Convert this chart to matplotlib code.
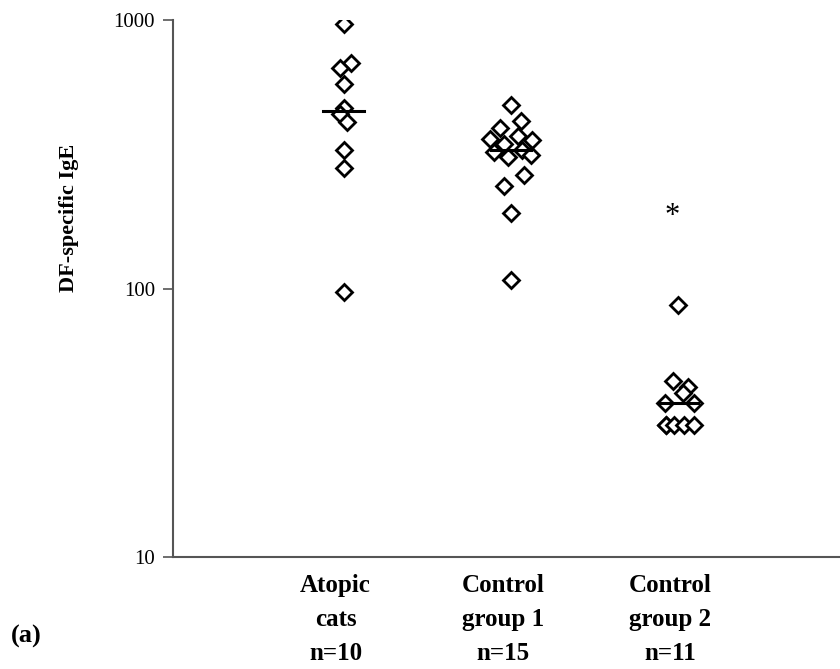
import matplotlib
matplotlib.use('Agg')
import matplotlib.pyplot as plt
import matplotlib.transforms as mtransforms
import numpy as np

# Group labels and DF-specific IgE values
categories = ['Atopic\ncats\nn=10', 'Control\ngroup 1\nn=15', 'Control\ngroup 2\nn=11']
atopic = [966, 692, 663, 578, 470, 445, 417, 328, 281, 97]
control1 = [482, 421, 396, 370, 361, 357, 345, 328, 322, 314, 309, 265, 241, 191, 108]
control2 = [86.8, 45.2, 43.0, 40.8, 37.5, 37.5, 31.0, 31.0, 31.0, 31.0, 31.0]
star_value = 185

# horizontal dodge (in category units) so overlapping diamonds stay visible
atopic_dx = [0, 0.042, -0.024, 0, 0, -0.024, 0.018, 0, 0, 0]
control1_dx = [0, 0.06, -0.066, 0.042, -0.126, 0.126, -0.042, 0.066, -0.102,
               0.12, -0.018, 0.078, -0.042, 0, 0]
control2_dx = [0, -0.03, 0.06, 0.03, -0.078, 0.096, -0.072, -0.072, -0.024, 0.036, 0.096]

groups = [atopic, control1, control2]
offsets = [atopic_dx, control1_dx, control2_dx]

plt.rcParams['font.family'] = ['Liberation Serif', 'DejaVu Serif']

fig = plt.figure(figsize=(8.4, 6.69), dpi=100)
ax = fig.add_axes([0.206, 0.1674, 0.794, 0.8027])

for i, (vals, dx) in enumerate(zip(groups, offsets)):
    x = i + 1 + np.array(dx)
    ax.plot(x, vals, linestyle='none', marker='D', markersize=8.5,
            markerfacecolor='white', markeredgecolor='black', markeredgewidth=2.0,
            zorder=3)
    med = np.median(vals)
    ax.plot([i + 1 - 0.12, i + 1 + 0.12], [med, med], color='black', lw=2.2, zorder=4)

ax.text(3 - 0.035, star_value, '*', ha='center', va='center', fontsize=22,
        color='black')

ax.set_yscale('log')
ax.set_ylim(10, 1000)
ax.set_xlim(-0.02, 3.97)
ax.set_yticks([10, 100, 1000])
ax.set_yticklabels(['10', '100', '1000'])
ax.yaxis.set_minor_locator(matplotlib.ticker.NullLocator())
ax.tick_params(axis='y', direction='out', length=7, width=1.2, color='#555555',
               labelsize=15, pad=6)

ax.set_xticks([1, 2, 3])
ax.set_xticklabels(categories, fontsize=18, fontweight='bold', linespacing=1.62)
ax.tick_params(axis='x', length=0, pad=12)
shift = mtransforms.ScaledTranslation(-8 / 100, 0, fig.dpi_scale_trans)
for lbl in ax.get_xticklabels():
    lbl.set_transform(lbl.get_transform() + shift)

for side in ['top', 'right']:
    ax.spines[side].set_visible(False)
for side in ['left', 'bottom']:
    ax.spines[side].set_color('#555555')
    ax.spines[side].set_linewidth(1.5)

fig.text(69 / 840, 1 - 218 / 669, 'DF-specific IgE', rotation=90, ha='center',
         va='center', fontsize=16, fontweight='bold')
fig.text(11 / 840, 1 - 636 / 669, '(a)', ha='left', va='center', fontsize=19,
         fontweight='bold')

fig.patch.set_facecolor('white')
fig.savefig('out.png', dpi=100, facecolor='white')
